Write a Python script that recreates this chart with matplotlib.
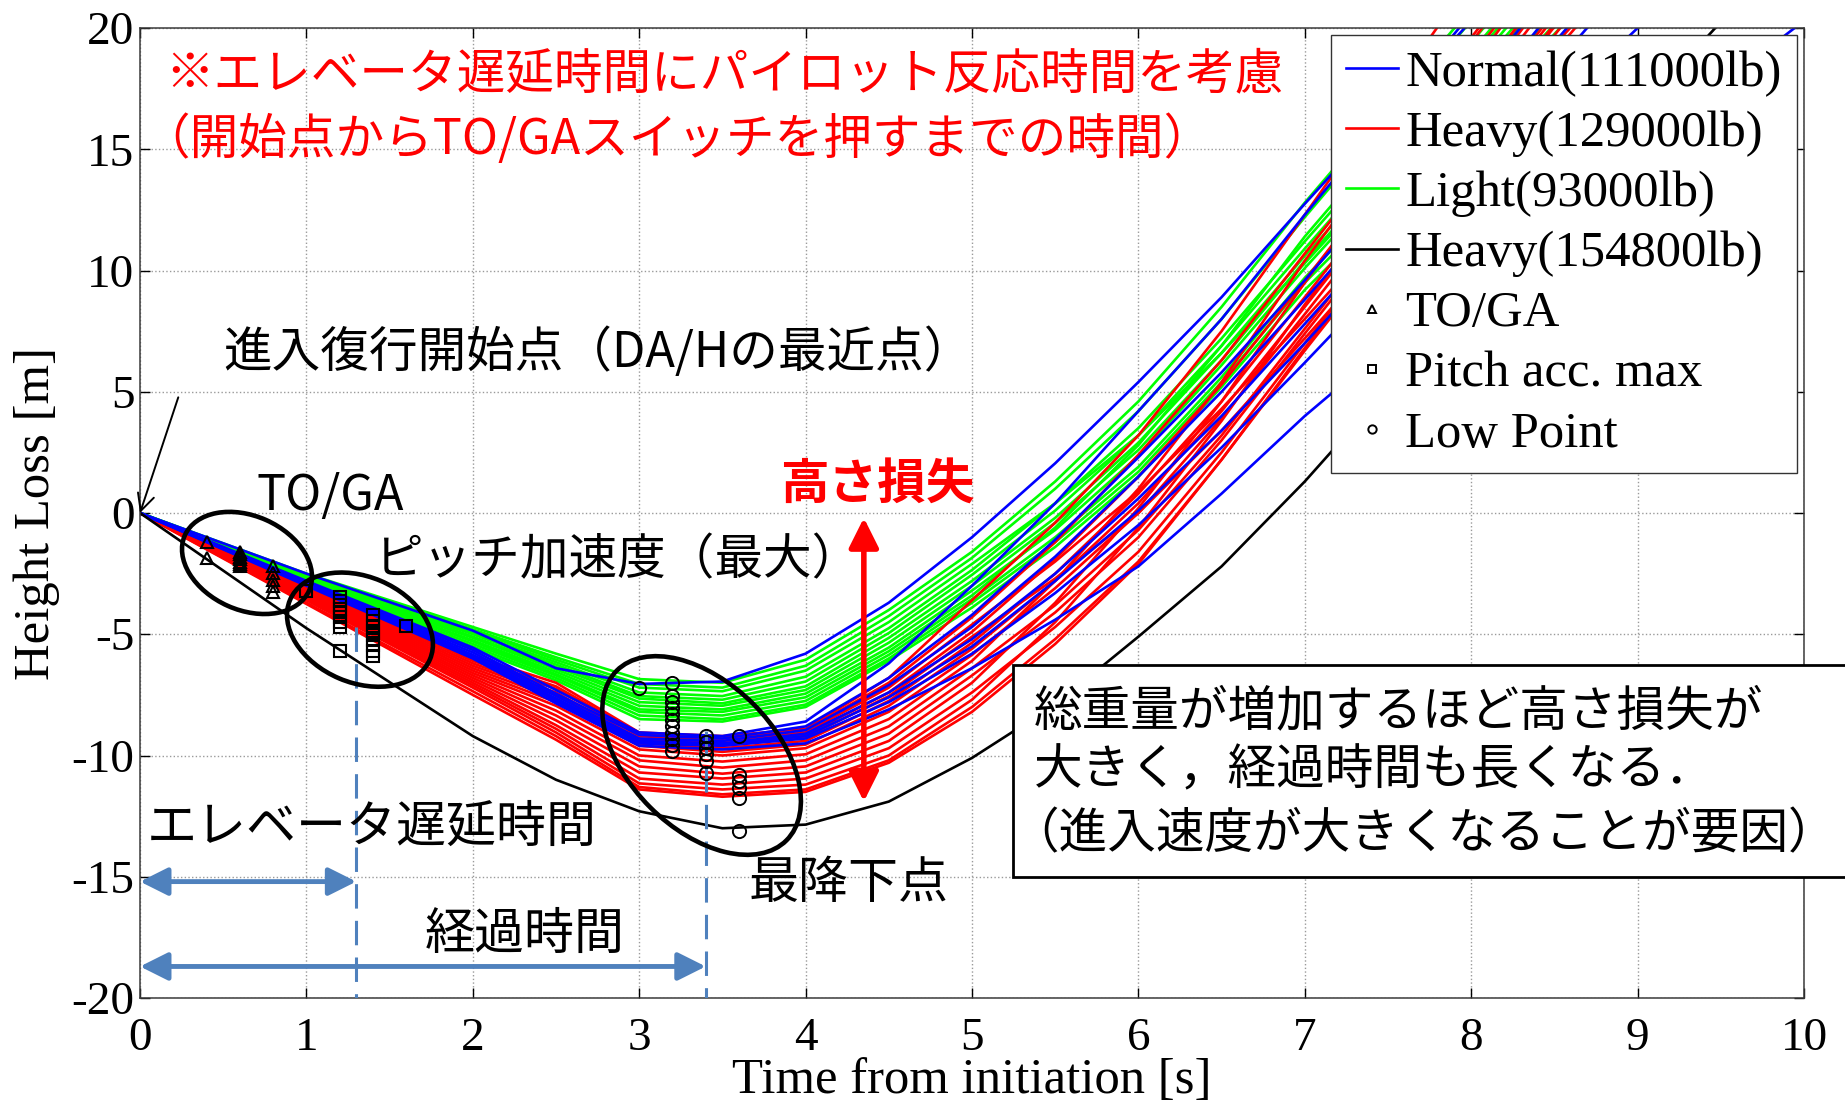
import matplotlib
matplotlib.use('Agg')
import matplotlib.pyplot as plt
from matplotlib.patches import Ellipse, Rectangle
from matplotlib.transforms import ScaledTranslation
from matplotlib.lines import Line2D

plt.rcParams['axes.unicode_minus'] = False
JP = ['Noto Sans CJK JP', 'DejaVu Sans']
SERIF = ['Liberation Serif', 'DejaVu Serif']
plt.rcParams['font.family'] = SERIF

# ---------------- data ----------------
t_grid = [0, 1, 2, 2.5, 3, 3.5, 4, 4.5, 5, 5.5, 6, 6.5, 7, 8, 9, 10]

normal_111000 = [
    [0, -2.50, -4.85, -6.40, -7.05, -6.95, -5.80, -3.70, -1.00, 2.05, 5.40, 8.90, 12.75, 20.30, 28.0, 36.0],
    [0, -2.80, -5.55, -7.30, -9.05, -9.20, -8.60, -6.20, -3.00, 0.40, 4.20, 8.00, 12.30, 20.60, 29.0, 37.0],
    [0, -2.85, -5.65, -7.45, -9.15, -9.30, -8.80, -6.80, -4.20, -1.10, 2.30, 5.80, 9.60, 17.50, 26.0, 34.0],
    [0, -2.90, -5.75, -7.55, -9.30, -9.40, -8.95, -7.10, -4.70, -1.80, 1.50, 5.00, 8.80, 16.60, 25.0, 33.0],
    [0, -2.90, -5.85, -7.65, -9.40, -9.50, -9.10, -7.40, -5.20, -2.50, 0.60, 4.00, 7.80, 15.40, 23.4, 31.0],
    [0, -2.95, -5.95, -7.75, -9.50, -9.60, -9.30, -7.80, -5.80, -3.30, -0.50, 2.70, 6.20, 13.40, 20.0, 28.0],
    [0, -3.00, -6.00, -7.85, -9.60, -9.75, -9.50, -8.10, -6.40, -4.40, -2.20, 0.80, 4.00, 9.80, 15.0, 20.3],
    [0, -2.95, -5.90, -7.70, -9.45, -9.55, -9.20, -7.60, -5.50, -2.80, 0.10, 3.40, 7.00, 14.50, 22.4, 30.0],
]

heavy_129000 = [
    [0, -2.95, -5.90, -7.00, -9.05, -9.20, -8.90, -6.80, -3.60, -0.40, 3.20, 7.50, 12.30, 22.00, 31.5, 41.0],
    [0, -3.00, -6.00, -7.15, -9.10, -9.30, -8.95, -7.00, -4.30, -1.20, 2.40, 6.30, 10.70, 19.40, 28.5, 37.5],
    [0, -3.05, -6.10, -7.25, -9.20, -9.40, -9.05, -7.20, -4.60, -2.00, 0.90, 4.30, 8.00, 15.60, 23.0, 31.0],
    [0, -3.10, -6.20, -7.40, -9.30, -9.50, -9.15, -7.40, -4.90, -1.90, 1.50, 5.30, 9.60, 18.40, 27.5, 36.5],
    [0, -3.15, -6.30, -7.50, -9.40, -9.60, -9.25, -7.55, -5.10, -2.70, 0.00, 3.40, 7.20, 15.00, 23.0, 31.0],
    [0, -3.20, -6.40, -7.65, -9.50, -9.70, -9.40, -7.75, -5.35, -2.50, 0.80, 4.60, 8.90, 17.60, 26.5, 35.5],
    [0, -3.25, -6.50, -7.80, -9.60, -9.85, -9.55, -7.95, -5.60, -2.80, 0.40, 4.20, 8.50, 17.20, 26.2, 35.0],
    [0, -3.30, -6.60, -7.95, -9.75, -10.00, -9.70, -8.20, -5.85, -3.10, 0.00, 3.90, 8.20, 16.90, 25.8, 34.5],
    [0, -3.35, -6.70, -8.15, -10.00, -10.25, -9.95, -8.50, -6.10, -2.80, 1.00, 5.40, 10.40, 19.60, 28.5, 37.0],
    [0, -3.40, -6.80, -8.35, -10.20, -10.50, -10.20, -8.80, -6.40, -3.80, -0.70, 3.20, 7.60, 16.30, 25.0, 33.5],
    [0, -3.45, -6.90, -8.55, -10.45, -10.75, -10.45, -9.10, -6.70, -4.10, -1.00, 3.00, 7.40, 16.10, 24.8, 33.5],
    [0, -3.50, -7.00, -8.75, -10.70, -10.95, -10.70, -9.40, -7.00, -3.70, 0.20, 4.60, 9.50, 18.80, 27.5, 36.0],
    [0, -3.55, -7.10, -8.90, -10.95, -11.20, -10.95, -9.70, -7.40, -4.70, -1.60, 2.50, 7.00, 15.70, 24.4, 33.0],
    [0, -3.60, -7.20, -9.05, -11.15, -11.40, -11.20, -10.00, -7.70, -4.50, -0.60, 3.80, 8.60, 17.60, 26.5, 35.0],
    [0, -3.70, -7.35, -9.20, -11.30, -11.60, -11.40, -10.20, -8.00, -5.20, -2.00, 2.20, 6.70, 15.40, 24.0, 32.5],
    [0, -3.75, -7.50, -9.35, -11.40, -11.70, -11.50, -10.30, -8.20, -5.40, -2.10, 2.20, 6.80, 15.80, 24.5, 33.0],
]

light_93000 = [
    [0, -2.50, -4.70, -5.80, -6.85, -7.00, -6.05, -4.00, -1.60, 1.30, 4.60, 8.50, 12.80, 20.80, 29.0, 37.0],
    [0, -2.55, -4.80, -5.95, -7.05, -7.20, -6.30, -4.25, -1.85, 1.00, 4.20, 8.00, 12.20, 20.30, 28.5, 36.5],
    [0, -2.55, -4.85, -6.05, -7.20, -7.35, -6.50, -4.50, -2.10, 0.40, 3.20, 6.60, 10.30, 17.80, 25.5, 33.5],
    [0, -2.60, -4.95, -6.15, -7.40, -7.55, -6.75, -4.75, -2.35, 0.40, 3.50, 7.20, 11.20, 19.00, 27.2, 35.5],
    [0, -2.65, -5.00, -6.25, -7.55, -7.70, -6.95, -4.95, -2.55, 0.10, 3.20, 6.90, 10.90, 18.70, 26.8, 35.0],
    [0, -2.65, -5.10, -6.35, -7.65, -7.85, -7.15, -5.15, -2.80, -0.20, 2.90, 6.60, 10.60, 18.30, 26.4, 34.5],
    [0, -2.70, -5.15, -6.45, -7.80, -7.95, -7.30, -5.35, -3.00, -0.40, 2.60, 6.30, 10.40, 18.00, 26.0, 34.0],
    [0, -2.75, -5.25, -6.55, -7.95, -8.10, -7.45, -5.55, -3.20, -0.70, 2.35, 6.10, 10.10, 17.60, 25.5, 33.5],
    [0, -2.75, -5.30, -6.65, -8.10, -8.20, -7.60, -5.70, -3.40, -0.60, 2.80, 6.90, 11.40, 19.40, 27.5, 35.5],
    [0, -2.80, -5.40, -6.70, -8.20, -8.35, -7.75, -5.85, -3.55, -1.00, 1.90, 5.60, 9.70, 16.80, 24.4, 32.5],
    [0, -2.85, -5.50, -6.80, -8.35, -8.50, -7.90, -6.00, -3.70, -1.20, 1.70, 5.40, 9.50, 16.40, 23.9, 32.0],
    [0, -2.90, -5.60, -6.90, -8.50, -8.60, -8.00, -6.10, -3.90, -1.40, 1.50, 5.20, 9.20, 16.00, 23.5, 31.5],
]

heavy_154800 = [0, -4.75, -9.20, -11.00, -12.30, -13.00, -12.85, -11.90, -10.10, -7.90, -5.10, -2.20, 1.30, 9.00, 16.50, 24.0]

toga_t = [0.4, 0.4, 0.6, 0.6, 0.6, 0.6, 0.6, 0.6, 0.6, 0.8, 0.8, 0.8, 0.8, 0.8]
toga_v = [-1.21, -1.86, -1.60, -1.70, -1.80, -1.90, -2.00, -2.10, -2.20, -2.20, -2.47, -2.75, -3.03, -3.26]

pitch_t = [1.0, 1.2, 1.2, 1.2, 1.2, 1.2, 1.2, 1.2, 1.2, 1.2,
           1.4, 1.4, 1.4, 1.4, 1.4, 1.4, 1.4, 1.4, 1.4, 1.6]
pitch_v = [-3.20, -3.46, -3.62, -3.80, -3.95, -4.10, -4.30, -4.50, -4.72, -5.70,
           -4.22, -4.45, -4.65, -4.85, -5.05, -5.25, -5.45, -5.68, -5.88, -4.68]

low_t = [3.0, 3.2, 3.2, 3.2, 3.2, 3.2, 3.2, 3.2, 3.2, 3.2, 3.2, 3.2,
         3.4, 3.4, 3.4, 3.4, 3.4, 3.4, 3.6, 3.6, 3.6, 3.6, 3.6, 3.6]
low_v = [-7.20, -7.00, -7.56, -7.81, -8.05, -8.30, -8.55, -8.80, -9.07, -9.32, -9.57, -9.81,
         -9.20, -9.46, -9.70, -9.95, -10.24, -10.72,
         -9.20, -10.79, -11.07, -11.34, -11.75, -13.13]

elevator_delay = 1.3     # s
elapsed_time = 3.4       # s

x_ticks = [0, 1, 2, 3, 4, 5, 6, 7, 8, 9, 10]
y_ticks = [-20, -15, -10, -5, 0, 5, 10, 15, 20]

# ---------------- figure ----------------
fig = plt.figure(figsize=(18.45, 11.09), dpi=100)
ax = fig.add_axes([140/1845, 1-998/1109, 1664/1845, 970/1109])
ax.set_xlim(0, 10)
ax.set_ylim(-20, 20)
ax.set_xticks(x_ticks)
ax.set_yticks(y_ticks)
ax.set_xticklabels([str(v) for v in x_ticks])
ax.set_yticklabels([str(v) for v in y_ticks])
ax.tick_params(direction='in', length=7, width=1, top=True, right=True,
               labelsize=34, colors='black')
ax.tick_params(axis='x', pad=14)
ax.tick_params(axis='y', pad=4)
ax.grid(True, linestyle=':', color='#9a9a9a', linewidth=1.0)
for s in ax.spines.values():
    s.set_color('#3a3a3a')
    s.set_linewidth(1.1)

LW = 1.9
for c in light_93000:
    ax.plot(t_grid, c, color='#00ff00', lw=LW, zorder=2)
for c in heavy_129000:
    ax.plot(t_grid, c, color='#ff0000', lw=LW, zorder=2.1)
for c in normal_111000:
    ax.plot(t_grid, c, color='#0000ff', lw=LW, zorder=2.2)
ax.plot(t_grid, heavy_154800, color='black', lw=LW, zorder=2.3)

ax.plot(toga_t, toga_v, ls='none', marker='^', ms=9, mfc='none', mec='k', mew=1.5, zorder=4)
ax.plot(pitch_t, pitch_v, ls='none', marker='s', ms=8, mfc='none', mec='k', mew=1.5, zorder=4)
ax.plot(low_t, low_v, ls='none', marker='o', ms=9.5, mfc='none', mec='k', mew=1.4, zorder=4)

# dashed markers of times
BLUE2 = '#4f81bd'
ax.plot([elevator_delay, elevator_delay], [-4.7, -20], ls=(0, (8, 4)), color=BLUE2, lw=2.2, zorder=3)
ax.plot([elapsed_time, elapsed_time], [-9.0, -20], ls=(0, (8, 4)), color=BLUE2, lw=2.2, zorder=3)

# ellipses (sizes in pixels, centres in data)
def ellipse(tc, vc, a_px, b_px, ang):
    tr = fig.dpi_scale_trans + ScaledTranslation(tc, vc, ax.transData)
    e = Ellipse((0, 0), 2*a_px/100, 2*b_px/100, angle=ang, transform=tr,
                fill=False, ec='black', lw=3.3, zorder=5, clip_on=False)
    ax.add_artist(e)

ellipse(0.643, -2.06, 68, 47, -24)
ellipse(1.322, -4.81, 76, 53, -23)
ellipse(3.375, -10.0, 120, 73, -45)

# arrows
ax.annotate('', xy=(4.35, -11.9), xytext=(4.35, -0.2),
            arrowprops=dict(arrowstyle='<|-|>,head_length=1.0,head_width=0.5',
                            color='red', lw=4, mutation_scale=18, shrinkA=0, shrinkB=0), zorder=6)
ax.annotate('', xy=(elevator_delay, -15.2), xytext=(0, -15.2),
            arrowprops=dict(arrowstyle='<|-|>,head_length=1.0,head_width=0.5',
                            color=BLUE2, lw=3.5, mutation_scale=17, shrinkA=0, shrinkB=0), zorder=6)
ax.annotate('', xy=(elapsed_time, -18.7), xytext=(0, -18.7),
            arrowprops=dict(arrowstyle='<|-|>,head_length=1.0,head_width=0.5',
                            color=BLUE2, lw=3.5, mutation_scale=17, shrinkA=0, shrinkB=0), zorder=6)
ax.annotate('', xy=(0, 0), xytext=(0.23, 4.77),
            arrowprops=dict(arrowstyle='->', color='black', lw=1.4, mutation_scale=30,
                            shrinkA=0, shrinkB=0), zorder=6)

# texts
FS = 35
ax.text(0.15, 18.1, '※エレベータ遅延時間にパイロット反応時間を考慮', color='red',
        fontsize=FS, family=JP, va='center', ha='left', zorder=6)
ax.text(0.01, 15.4, '（開始点からTO/GAスイッチを押すまでの時間）', color='red',
        fontsize=FS, family=JP, va='center', ha='left', zorder=6)
ax.text(0.50, 6.6, '進入復行開始点（DA/Hの最近点）', color='black',
        fontsize=FS, family=JP, va='center', ha='left', zorder=6)
ax.text(0.70, 0.7, 'TO/GA', color='black', fontsize=FS, family=JP, va='center', ha='left', zorder=6)
ax.text(1.41, -1.97, 'ピッチ加速度（最大）', color='black', fontsize=FS, family=JP,
        va='center', ha='left', zorder=6)
ax.text(4.43, 1.13, '高さ損失', color='red', fontsize=FS, family=JP, fontweight='bold',
        va='center', ha='center', zorder=6)
ax.text(0.04, -13.0, 'エレベータ遅延時間', color='black', fontsize=36, family=JP,
        va='center', ha='left', zorder=6)
ax.text(2.31, -17.4, '経過時間', color='black', fontsize=36, family=JP,
        va='center', ha='center', zorder=6)
ax.text(3.66, -15.3, '最降下点', color='black', fontsize=36, family=JP,
        va='center', ha='left', zorder=6)

# box in lower right
box = Rectangle((1013/1845, (1109-877)/1109), 0.47, (877-665)/1109, transform=fig.transFigure,
                facecolor='white', edgecolor='black', lw=2.0, zorder=7)
fig.add_artist(box)
box_lines = ['総重量が増加するほど高さ損失が', '大きく，経過時間も長くなる．', '（進入速度が大きくなることが要因）']
box_y = [711, 771, 835]
box_x = [1034, 1034, 1010]
for s, xx, yy in zip(box_lines, box_x, box_y):
    fig.text(xx/1845, 1 - yy/1109, s, fontsize=35, family=JP, va='center', ha='left', zorder=8)

# labels
ax.set_xlabel('Time from initiation [s]', fontsize=36.5)
ax.set_ylabel('Height Loss [m]', fontsize=36.5)
ax.xaxis.set_label_coords(0.5, -0.061)
ax.yaxis.set_label_coords(-0.048, 0.5)

# legend
handles = [
    Line2D([], [], color='#0000ff', lw=LW, label='Normal(111000lb)'),
    Line2D([], [], color='#ff0000', lw=LW, label='Heavy(129000lb)'),
    Line2D([], [], color='#00ff00', lw=LW, label='Light(93000lb)'),
    Line2D([], [], color='black', lw=LW, label='Heavy(154800lb)'),
    Line2D([], [], ls='none', marker='^', ms=6, mfc='none', mec='k', mew=1.4, label='TO/GA'),
    Line2D([], [], ls='none', marker='s', ms=6, mfc='none', mec='k', mew=1.4, label='Pitch acc. max'),
    Line2D([], [], ls='none', marker='o', ms=6, mfc='none', mec='k', mew=1.4, label='Low Point'),
]
leg = ax.legend(handles=handles, loc='upper right', bbox_to_anchor=(0.9958, 0.9928),
                borderaxespad=0, prop={'family': SERIF, 'size': 36.5}, frameon=True,
                fancybox=False, edgecolor='#333333', framealpha=1, handlelength=1.03,
                handletextpad=0.14, labelspacing=0.27, borderpad=0.3)
leg.get_frame().set_linewidth(1.0)
leg.set_zorder(10)

fig.savefig('out.png', dpi=100, facecolor='white')
